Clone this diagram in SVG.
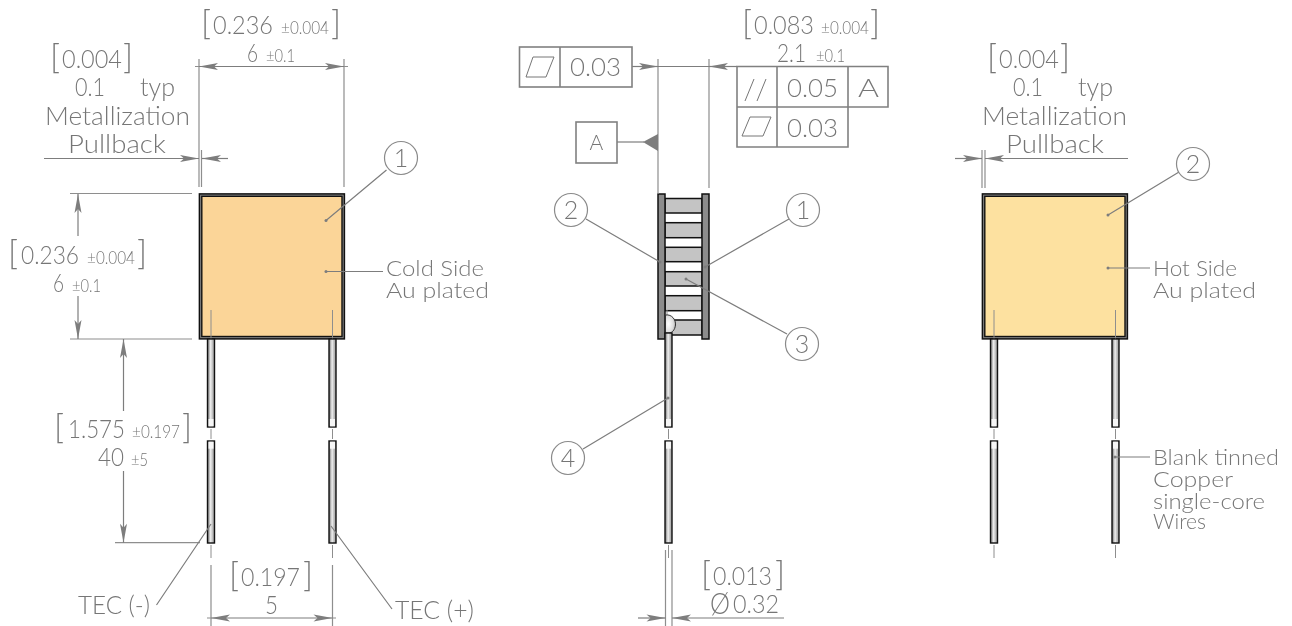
<svg xmlns="http://www.w3.org/2000/svg" width="1292" height="626" viewBox="0 0 1292 626">
<style>
text{font-family:"Lato","Open Sans","Liberation Sans",sans-serif;font-weight:300;fill:#767676;filter:url(#gray)}
.t{font-size:25px}.c{font-size:21.5px}.s{font-size:17px}.b{font-size:34px}.d{font-size:21px}.o{font-size:30px}
.dim{stroke:#7d7d7d;stroke-width:1.2;fill:none}
.ext{stroke:#8e8e8e;stroke-width:1.2;fill:none}
.arr{marker-start:url(#ah);marker-end:url(#ah)}
.ae{marker-end:url(#ah)}
.lead{stroke:#7d7d7d;stroke-width:1.2;fill:none}
.dot{fill:#7d7d7d}
.bal{fill:#fff;stroke:#8a8a8a;stroke-width:1.2}
.tbl{fill:#fff;stroke:#808080;stroke-width:1.6}
.sym{fill:none;stroke:#767676;stroke-width:1}
.cl{stroke:#8e8e8e;stroke-width:1;fill:none}
.outer{fill:#8c8c8c;stroke:#111;stroke-width:1.5}
.bar{fill:#c4c4c4;stroke:#111;stroke-width:1.5}
.wire{fill:url(#wg);stroke:#111;stroke-width:1.4}
.pl{fill:#8a8a8a;stroke:#111;stroke-width:1.5}
.in{stroke:#111;stroke-width:1.4}
</style>
<defs>
<filter id="gray" x="-30%" y="-30%" width="160%" height="160%"><feOffset dx="0" dy="0"/></filter>
<marker id="ah" markerUnits="userSpaceOnUse" markerWidth="22" markerHeight="10" refX="20" refY="5" orient="auto-start-reverse"><path d="M20,5 L1,1.5 L5,5 L1,8.5 Z" fill="#7d7d7d"/></marker>
<linearGradient id="wg" x1="0" x2="1" y1="0" y2="0"><stop offset="0" stop-color="#808080"/><stop offset=".2" stop-color="#a8a8a8"/><stop offset=".45" stop-color="#f0f0f0"/><stop offset=".65" stop-color="#c8c8c8"/><stop offset="1" stop-color="#9a9a9a"/></linearGradient>
<radialGradient id="sg" cx=".3" cy=".5" r=".8"><stop offset="0" stop-color="#fff"/><stop offset=".6" stop-color="#dcdcdc"/><stop offset="1" stop-color="#8f8f8f"/></radialGradient>
<g id="tips">
<rect x="1" y="419" width="5" height="7.3" fill="#f6f6f6"/>
<rect x="1" y="441.7" width="5" height="7" fill="#f6f6f6"/>
</g>
<g id="pair">
<rect class="wire" x="0" y="339" width="7" height="88"/>
<rect class="wire" x="0" y="441" width="7" height="102"/>
<use href="#tips"/>
<path class="cl" d="M3.5,429V439M3.5,545V558"/>
</g>
</defs>
<rect width="1292" height="626" fill="#fff"/>

<g id="view-cold">
<rect class="pl" x="199.4" y="193.9" width="145" height="145"/>
<rect class="in" x="201.8" y="196.3" width="140.2" height="140.2" fill="#fbd598"/>
<path class="cl" d="M211,310V339M332.5,310V339"/>
<use href="#pair" x="207.5"/><use href="#pair" x="329"/>
<circle class="dot" cx="326" cy="220.5" r="1.5"/><circle class="dot" cx="326" cy="271.5" r="1.5"/>
</g>
<g id="view-side">
<rect class="bar" x="665" y="198.5" width="37" height="14.5"/>
<rect class="bar" x="665" y="222.7" width="37" height="15"/>
<rect class="bar" x="665" y="247.3" width="37" height="14.4"/>
<rect class="bar" x="665" y="271.7" width="37" height="14.3"/>
<rect class="bar" x="665" y="295.7" width="37" height="15"/>
<rect class="bar" x="665" y="320" width="37" height="15"/>
<rect class="outer" x="658" y="194" width="7" height="145"/>
<rect class="outer" x="702" y="194" width="7" height="145"/>
<path class="cl" d="M667,310V316"/>
<path d="M665.5,315C672,314 676,320 675.5,325C675,330 672,333 669,333L665.5,333Z" fill="url(#sg)" stroke="#333" stroke-width="1"/>
<rect class="wire" x="665" y="333" width="7" height="94"/>
<rect class="wire" x="665" y="441" width="7" height="102"/>
<use href="#tips" x="665"/>
<path class="cl" d="M668.5,429V439M668.5,545V558"/>
<circle class="dot" cx="686" cy="279" r="1.5"/><circle class="dot" cx="705" cy="267" r="1.5"/><circle class="dot" cx="660" cy="262" r="1.5"/><circle class="dot" cx="668" cy="398" r="1.5"/>
</g>
<g id="view-hot">
<rect class="pl" x="982.4" y="193.9" width="145" height="145"/>
<rect class="in" x="984.8" y="196.3" width="140.2" height="140.2" fill="#fde1a0"/>
<path class="cl" d="M994,310V339M1115.5,310V339"/>
<use href="#pair" x="990.5"/><use href="#pair" x="1112"/>
<circle class="dot" cx="1108" cy="215" r="1.5"/><circle class="dot" cx="1108" cy="268" r="1.5"/><circle class="dot" cx="1115" cy="457" r="1.5"/>
</g>

<g id="connectors">
<path class="ext" d="M199,59V187M344,59V187M201.5,150V187M70,193.5H192M70,339H192M115,542.7H200M211,565V626M332.5,565V626"/>
<path class="dim arr" d="M199,66.5H344"/>
<path class="ext" d="M195,66.5H199M344,66.5H348"/>
<path class="dim ae" d="M44,158.5H199"/>
<path class="dim ae" d="M228,158.5H202"/>
<path class="dim ae" d="M78,236V194"/>
<path class="dim ae" d="M78,296V339"/>
<path class="dim ae" d="M123.5,411V339"/>
<path class="dim ae" d="M123.5,471V542.7"/>
<path class="dim arr" d="M211,618H332.5"/>
<path class="ext" d="M207,618H211M332.5,618H336"/>
<path class="lead" d="M156.5,605L211,524M392,609L331,526M386.5,170L326,220.5M326,271.5H383"/>
<path class="ext" d="M658,59V194M709,59V188M665.5,550V626M672,550V626"/>
<path class="dim ae" d="M632,66.5H658"/>
<path class="dim" d="M658,66.5H709"/>
<path class="dim ae" d="M737,66.5H709"/>
<path class="dim" d="M737,66.5H888"/>
<path class="dim ae" d="M638,618H665.5"/>
<path class="dim ae" d="M784,618H672"/>
<path class="lead" d="M617,142H644"/>
<path class="lead" d="M586,219L660,262M789,219L705,267M787,334L686,279M583,449L668,398"/>
<path class="ext" d="M982,150V188M985,150V188"/>
<path class="dim ae" d="M955,158.5H982"/>
<path class="dim ae" d="M1128,158.5H985"/>
<path class="lead" d="M1179,172L1108,215M1108,268H1150M1115,457H1150"/>
</g>

<g id="datum-a">
<polygon points="643,142 658,134 658,151" fill="#7d7d7d"/>
<rect class="tbl" x="576" y="122" width="41" height="41"/>
<text class="d" x="596.5" y="150" text-anchor="middle">A</text>
</g>
<g id="fcf-flat-left">
<rect class="tbl" x="519.5" y="47" width="112.5" height="40"/>
<path class="tbl" d="M560,47V87"/>
<path class="sym" d="M526,77L533,57H554L546,77Z"/>
<text class="t" x="570" y="76" textLength="51" lengthAdjust="spacingAndGlyphs">0.03</text>
</g>
<g id="fcf-right">
<path class="tbl" d="M737,66.5H888V107H848V147H737Z"/>
<path class="tbl" fill="none" d="M737,107H848M777,66.5V147M848,66.5V107"/>
<path class="sym" d="M745,101L754,79M757,101L766,79M742,136L750,117H771L763,136Z"/>
<text class="t" x="787" y="97" textLength="51" lengthAdjust="spacingAndGlyphs">0.05</text>
<text class="t" x="858" y="97" textLength="21" lengthAdjust="spacingAndGlyphs">A</text>
<text class="t" x="787" y="137" textLength="51" lengthAdjust="spacingAndGlyphs">0.03</text>
</g>

<g id="balloon-1a"><circle class="bal" cx="401" cy="158" r="16.5"/><text class="t" x="401" y="167" text-anchor="middle">1</text></g>
<g id="balloon-2a"><circle class="bal" cx="571" cy="210" r="16.5"/><text class="t" x="571" y="219" text-anchor="middle">2</text></g>
<g id="balloon-1b"><circle class="bal" cx="803" cy="210" r="16.5"/><text class="t" x="803" y="219" text-anchor="middle">1</text></g>
<g id="balloon-3"><circle class="bal" cx="802" cy="344" r="16.5"/><text class="t" x="802" y="353" text-anchor="middle">3</text></g>
<g id="balloon-4"><circle class="bal" cx="568" cy="458" r="16.5"/><text class="t" x="568" y="467" text-anchor="middle">4</text></g>
<g id="balloon-2b"><circle class="bal" cx="1193" cy="164" r="16.5"/><text class="t" x="1193" y="173" text-anchor="middle">2</text></g>

<g id="labels-left">
<text class="b" x="201" y="35">[</text><text class="t" x="213" y="34" textLength="60" lengthAdjust="spacingAndGlyphs">0.236</text><text class="s" x="281" y="34" textLength="48" lengthAdjust="spacingAndGlyphs">±0.004</text><text class="b" x="331" y="35">]</text>
<text class="t" x="247" y="62" textLength="11" lengthAdjust="spacingAndGlyphs">6</text><text class="s" x="266" y="62" textLength="29" lengthAdjust="spacingAndGlyphs">±0.1</text>
<text class="b" x="50" y="69">[</text><text class="t" x="62" y="68" textLength="60" lengthAdjust="spacingAndGlyphs">0.004</text><text class="b" x="123" y="69">]</text>
<text class="t" x="75" y="96" textLength="30" lengthAdjust="spacingAndGlyphs">0.1</text><text class="t" x="140" y="96" textLength="35" lengthAdjust="spacingAndGlyphs">typ</text>
<text class="t" x="45" y="125" textLength="145" lengthAdjust="spacingAndGlyphs">Metallization</text><text class="t" x="68" y="153" textLength="98" lengthAdjust="spacingAndGlyphs">Pullback</text>
<text class="b" x="8" y="265">[</text><text class="t" x="21" y="264" textLength="58" lengthAdjust="spacingAndGlyphs">0.236</text><text class="s" x="87" y="264" textLength="48" lengthAdjust="spacingAndGlyphs">±0.004</text><text class="b" x="137" y="265">]</text>
<text class="t" x="53" y="292" textLength="11" lengthAdjust="spacingAndGlyphs">6</text><text class="s" x="72" y="292" textLength="29" lengthAdjust="spacingAndGlyphs">±0.1</text>
<text class="b" x="54" y="439">[</text><text class="t" x="68" y="438" textLength="57" lengthAdjust="spacingAndGlyphs">1.575</text><text class="s" x="132" y="438" textLength="48" lengthAdjust="spacingAndGlyphs">±0.197</text><text class="b" x="182" y="439">]</text>
<text class="t" x="98" y="466" textLength="26" lengthAdjust="spacingAndGlyphs">40</text><text class="s" x="131" y="466" textLength="17" lengthAdjust="spacingAndGlyphs">±5</text>
<text class="b" x="229" y="587">[</text><text class="t" x="241" y="586" textLength="59" lengthAdjust="spacingAndGlyphs">0.197</text><text class="b" x="303" y="587">]</text>
<text class="t" x="265" y="614" textLength="13" lengthAdjust="spacingAndGlyphs">5</text>
<text class="t" x="78" y="614" textLength="72" lengthAdjust="spacingAndGlyphs">TEC (-)</text><text class="t" x="395" y="619" textLength="79" lengthAdjust="spacingAndGlyphs">TEC (+)</text>
<text class="c" x="386" y="276" textLength="98" lengthAdjust="spacingAndGlyphs">Cold Side</text><text class="c" x="386" y="298" textLength="103" lengthAdjust="spacingAndGlyphs">Au plated</text>
</g>
<g id="labels-centre">
<text class="b" x="742" y="35">[</text><text class="t" x="754" y="34" textLength="60" lengthAdjust="spacingAndGlyphs">0.083</text><text class="s" x="821" y="34" textLength="48" lengthAdjust="spacingAndGlyphs">±0.004</text><text class="b" x="870" y="35">]</text>
<text class="t" x="777" y="62" textLength="29" lengthAdjust="spacingAndGlyphs">2.1</text><text class="s" x="816" y="62" textLength="29" lengthAdjust="spacingAndGlyphs">±0.1</text>
<text class="b" x="701" y="586">[</text><text class="t" x="713" y="585" textLength="59" lengthAdjust="spacingAndGlyphs">0.013</text><text class="b" x="775" y="586">]</text>
<text class="o" x="710" y="614" textLength="20" lengthAdjust="spacingAndGlyphs">Ø</text><text class="t" x="733" y="613" textLength="46" lengthAdjust="spacingAndGlyphs">0.32</text>
</g>
<g id="labels-right">
<text class="b" x="987" y="69">[</text><text class="t" x="999" y="68" textLength="60" lengthAdjust="spacingAndGlyphs">0.004</text><text class="b" x="1060" y="69">]</text>
<text class="t" x="1013" y="96" textLength="30" lengthAdjust="spacingAndGlyphs">0.1</text><text class="t" x="1078" y="96" textLength="35" lengthAdjust="spacingAndGlyphs">typ</text>
<text class="t" x="982" y="125" textLength="145" lengthAdjust="spacingAndGlyphs">Metallization</text><text class="t" x="1006" y="153" textLength="98" lengthAdjust="spacingAndGlyphs">Pullback</text>
<text class="c" x="1153" y="276" textLength="84" lengthAdjust="spacingAndGlyphs">Hot Side</text><text class="c" x="1153" y="298" textLength="103" lengthAdjust="spacingAndGlyphs">Au plated</text>
<text class="c" x="1153" y="465" textLength="126" lengthAdjust="spacingAndGlyphs">Blank tinned</text><text class="c" x="1153" y="487" textLength="80" lengthAdjust="spacingAndGlyphs">Copper</text><text class="c" x="1153" y="509" textLength="112" lengthAdjust="spacingAndGlyphs">single-core</text><text class="c" x="1153" y="529" textLength="53" lengthAdjust="spacingAndGlyphs">Wires</text>
</g>
</svg>
